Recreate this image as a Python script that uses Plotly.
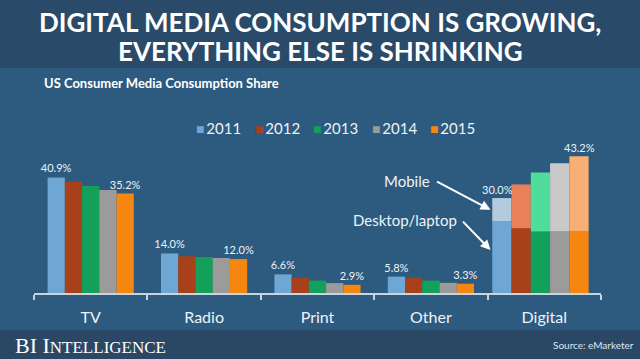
import plotly.graph_objects as go

# ---------------- data ----------------
categories = ["TV", "Radio", "Print", "Other"]
digital_label = "Digital"
years = ["2011", "2012", "2013", "2014", "2015"]
tv = [40.9, 39.4, 37.9, 36.5, 35.2]
radio = [14.0, 13.0, 12.7, 12.4, 12.0]
print_share = [6.6, 5.3, 4.4, 3.5, 2.9]
other = [5.8, 5.4, 4.4, 3.6, 3.3]
digital_desktop = [22.6, 20.5, 19.4, 19.4, 19.6]
digital_mobile = [7.4, 13.8, 18.7, 21.6, 23.6]
digital_total = [30.0, 34.3, 38.1, 41.0, 43.2]

# ---------------- styles ----------------
colors = ["#6fa7d4", "#a8411b", "#13a05b", "#9b9b9b", "#f5860f"]
light_colors = ["#b4cadd", "#e9805a", "#4fdd9b", "#c9c9c9", "#f9af73"]
BG_MAIN = "#2d5a7f"
BG_TOP = "#294a68"
BG_FOOT = "#2a4866"
TXT = "#eef3f8"

W, H = 640, 359
ML, MR, MT, MB = 34, 39, 70, 66
PW, PH = W - ML - MR, H - MT - MB


def px(x):
    return (x - ML) / PW


def py(y):
    return (H - MB - y) / PH


bw = 0.152       # width of grouped bars (category units)
g0 = -0.38       # left edge of the group
dw = 0.170       # width of digital bars
d0 = -0.459      # left edge of the digital group
LAST = len(years) - 1

fig = go.Figure()
for i, yr in enumerate(years):
    vals = [tv[i], radio[i], print_share[i], other[i]]
    txt = [f"{v:.1f}%" if i in (0, LAST) else "" for v in vals]
    fig.add_trace(go.Bar(
        x=categories, y=vals, name=yr, legendgroup=yr,
        width=bw, offset=g0 + i * bw,
        marker=dict(color=colors[i], line=dict(width=0)),
        text=txt, textposition="outside", cliponaxis=False, constraintext="none",
        textfont=dict(family="Lato", size=11, color=TXT),
    ))
    fig.add_trace(go.Bar(
        x=[digital_label], y=[digital_desktop[i]], yaxis="y2",
        name=yr, legendgroup=yr, showlegend=False,
        width=dw, offset=d0 + i * dw,
        marker=dict(color=colors[i], line=dict(width=0)),
    ))
    fig.add_trace(go.Bar(
        x=[digital_label], y=[digital_mobile[i]], base=[digital_desktop[i]],
        yaxis="y2", name=yr, legendgroup=yr, showlegend=False,
        width=dw, offset=d0 + i * dw,
        marker=dict(color=light_colors[i], line=dict(width=0)),
    ))

shapes = [
    dict(type="rect", xref="paper", yref="paper", x0=px(0), x1=px(W),
         y0=py(68), y1=py(0), fillcolor=BG_TOP, line=dict(width=0), layer="below"),
    dict(type="rect", xref="paper", yref="paper", x0=px(0), x1=px(W),
         y0=py(H), y1=py(330), fillcolor=BG_FOOT, line=dict(width=0), layer="below"),
]

annotations = [
    dict(text="DIGITAL MEDIA CONSUMPTION IS GROWING,", xref="paper", yref="paper",
         x=px(320), y=py(22.5), xanchor="center", yanchor="middle", showarrow=False,
         height=28, valign="middle",
         font=dict(family="Lato", size=26, color="white", weight="bold")),
    dict(text="EVERYTHING ELSE IS SHRINKING", xref="paper", yref="paper",
         x=px(320), y=py(51), xanchor="center", yanchor="middle", showarrow=False,
         height=28, valign="middle",
         font=dict(family="Lato", size=26, color="white", weight="bold")),
    dict(text="US Consumer Media Consumption Share", xref="paper", yref="paper",
         x=px(42), y=py(83), xanchor="left", yanchor="middle", showarrow=False,
         font=dict(family="Lato", size=13, color="white", weight="bold")),
    dict(text="BI I<span style='font-size:17px'>NTELLIGENCE</span>", xref="paper", yref="paper",
         x=px(13), y=py(345), xanchor="left", yanchor="middle", showarrow=False,
         font=dict(family="Liberation Serif", size=22, color="white")),
    dict(text="Source: eMarketer", xref="paper", yref="paper",
         x=px(636), y=py(345), xanchor="right", yanchor="middle", showarrow=False,
         font=dict(family="Lato", size=10, color="#dfe7ee")),
    dict(text="Mobile", xref="paper", yref="paper",
         x=px(432), y=py(181), xanchor="right", yanchor="middle", showarrow=False,
         font=dict(family="Lato", size=15, color=TXT)),
    dict(text="Desktop/laptop", xref="paper", yref="paper",
         x=px(459), y=py(220), xanchor="right", yanchor="middle", showarrow=False,
         font=dict(family="Lato", size=15, color=TXT)),
    # arrows
    dict(text="", x=4 + d0 - 0.015, y=digital_desktop[0] + digital_mobile[0] / 2,
         xref="x", yref="y2", showarrow=True, ax=-55, ay=-29,
         arrowhead=2, arrowsize=1, arrowwidth=2, arrowcolor="white"),
    dict(text="", x=4 + d0 - 0.015, y=digital_desktop[0] * 0.6,
         xref="x", yref="y2", showarrow=True, ax=-29, ay=-30,
         arrowhead=2, arrowsize=1, arrowwidth=2, arrowcolor="white"),
]

# value labels on top of the digital stacks (first and last year)
for i, xs in ((0, -4), (LAST, 0)):
    annotations.append(dict(
        text=f"{digital_total[i]:.1f}%", x=4 + d0 + (i + 0.5) * dw, y=digital_total[i],
        xref="x", yref="y2", xanchor="center", yanchor="bottom", showarrow=False,
        xshift=xs, yshift=0, font=dict(family="Lato", size=11, color=TXT)))

# compact legend row (year swatches)
for i, yr in enumerate(years):
    annotations.append(dict(
        text=f"<span style='color:{colors[i]};font-size:14px'>■</span>\u2009{yr}",
        xref="paper", yref="paper", x=px(194 + i * 58.5), y=py(128),
        xanchor="left", yanchor="middle", showarrow=False,
        font=dict(family="Lato", size=15, color=TXT)))

fig.update_layout(
    width=W, height=H,
    margin=dict(l=ML, r=MR, t=MT, b=MB, pad=0),
    paper_bgcolor=BG_MAIN, plot_bgcolor="rgba(0,0,0,0)",
    barmode="overlay",
    showlegend=False,
    xaxis=dict(type="category", categoryorder="array",
               categoryarray=categories + [digital_label],
               range=[-0.5, 4.5], showline=True, linecolor="#c9d4de", linewidth=1.5,
               ticks="outside", tickson="boundaries", ticklen=5, tickcolor="#c9d4de",
               tickwidth=1.5, showgrid=False, zeroline=False, ticklabelstandoff=9,
               tickfont=dict(family="Lato", size=16, color=TXT)),
    yaxis=dict(range=[0, PH / 2.825], visible=False, showgrid=False, fixedrange=True),
    yaxis2=dict(range=[0, PH / 3.165], overlaying="y", visible=False, showgrid=False),
    shapes=shapes,
    annotations=annotations,
)

fig.write_html("out.html", config={"displayModeBar": False},
               post_script="document.body.style.margin='0';")
